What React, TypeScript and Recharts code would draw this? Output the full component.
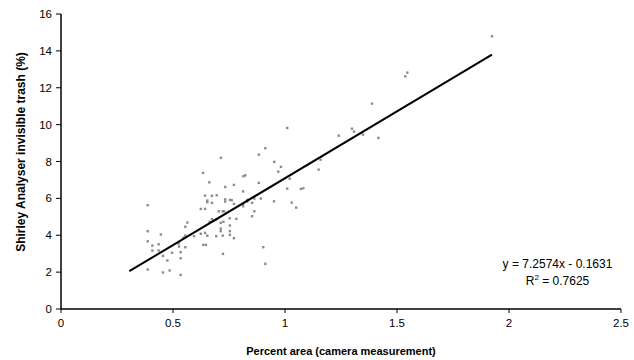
import {
  ComposedChart,
  Scatter,
  XAxis,
  YAxis,
  ZAxis,
} from "recharts";

// percent area (camera) vs Shirley analyser invisible trash (%)
const areaPct = [
  0.387, 0.387, 0.387, 0.387, 0.408, 0.408, 0.436, 0.436, 0.446, 0.455,
  0.455, 0.475, 0.485, 0.496, 0.525, 0.527, 0.534, 0.534, 0.534, 0.546,
  0.555, 0.555, 0.564, 0.555, 0.594, 0.624, 0.624, 0.634, 0.643, 0.643,
  0.643, 0.635, 0.647, 0.653, 0.653, 0.662, 0.653, 0.714, 0.883, 0.952,
  0.982, 0.970, 1.159, 1.150, 0.814, 0.823, 0.772, 0.733, 0.883, 1.021,
  0.813, 1.010, 1.071, 1.082, 0.674, 0.695, 0.674, 0.733, 0.733, 0.754,
  0.762, 0.772, 0.832, 0.832, 0.813, 0.813, 0.853, 0.863, 0.892, 0.951,
  1.030, 1.050, 0.704, 0.722, 0.728, 0.753, 0.783, 0.863, 0.853, 0.674,
  0.683, 0.693, 0.664, 0.713, 0.725, 0.754, 0.713, 0.713, 0.754, 0.754,
  0.693, 0.722, 0.772, 0.903, 0.723, 0.912, 1.010, 0.912, 1.240, 1.299,
  1.308, 1.348, 1.417, 1.388, 1.537, 1.546, 1.924,
];

const trashPct = [
  5.63, 4.22, 3.67, 2.14, 3.44, 3.17, 3.51, 3.17, 4.04, 2.88,
  1.98, 2.63, 2.09, 3.05, 3.55, 3.39, 3.08, 2.75, 1.85, 3.86,
  4.46, 3.35, 4.69, 3.98, 3.95, 5.43, 4.08, 7.38, 6.15, 5.43,
  4.13, 3.48, 3.48, 5.88, 5.79, 6.87, 3.98, 8.20, 8.37, 7.98,
  7.71, 7.45, 8.10, 7.56, 7.20, 7.25, 6.73, 6.62, 6.84, 7.07,
  6.38, 6.53, 6.51, 6.55, 6.14, 6.17, 5.76, 5.95, 5.83, 5.92,
  5.90, 5.70, 5.92, 5.83, 5.70, 5.57, 5.76, 5.99, 5.99, 5.84,
  5.77, 5.50, 5.30, 5.30, 5.30, 4.92, 4.89, 5.30, 5.03, 4.87,
  4.81, 4.85, 4.73, 4.67, 4.73, 4.53, 4.36, 4.22, 4.22, 4.02,
  3.95, 3.98, 3.84, 3.35, 2.99, 2.45, 9.82, 8.72, 9.40, 9.78,
  9.62, 9.46, 9.28, 11.14, 12.62, 12.82, 14.79,
];

const xTicks = [0, 0.5, 1, 1.5, 2, 2.5];
const yTicks = [0, 2, 4, 6, 8, 10, 12, 14, 16];

// linear fit shown on the chart
const slope = 7.2574;
const intercept = -0.1631;
const rSquared = 0.7625;
const fitRange = [0.305, 1.924];

const points = areaPct.map((x, i) => ({ x, y: trashPct[i] }));
const fitLine = fitRange.map((x) => ({ x, y: slope * x + intercept }));

const FONT = "'Liberation Sans', Arial, sans-serif";

const Dot = (props: any) => {
  const { cx, cy } = props;
  if (cx == null || cy == null) return null;
  return <rect x={cx - 1.2} y={cy - 1.2} width={2.4} height={2.4} fill="#8c8c8c" />;
};

// y title sits a bit above the plot centre in the original
const YTitle = () => (
  <text
    x={25}
    y={152}
    transform="rotate(-90 25 152)"
    textAnchor="middle"
    fontSize={12}
    fontWeight="bold"
    fontFamily={FONT}
    fill="#000"
  >
    Shirley Analyser invisible trash (%)
  </text>
);

export default function App() {
  return (
    <div style={{ position: "absolute", left: 0, top: 0, width: 634, height: 360, background: "#fff", fontFamily: FONT }}>
      <ComposedChart
        width={634}
        height={360}
        margin={{ top: 14, right: 13, bottom: 0, left: 0 }}
      >
        <XAxis
          xAxisId="b"
          type="number"
          dataKey="x"
          domain={[0, 2.5]}
          ticks={xTicks}
          height={51}
          axisLine={{ stroke: "#000", strokeWidth: 1.5 }}
          tickLine={{ stroke: "#000" }}
          tickSize={4}
          tickMargin={6}
          tick={{ fontSize: 11.5, fill: "#000", fontFamily: FONT }}
          label={{
            value: "Percent area (camera measurement)",
            position: "insideBottom",
            offset: 5,
            style: { fontSize: 11, fontWeight: "bold", fill: "#000", fontFamily: FONT },
          }}
        />
        <XAxis
          xAxisId="t"
          orientation="top"
          type="number"
          dataKey="x"
          domain={[0, 2.5]}
          height={0}
          tick={false}
          tickLine={false}
          axisLine={{ stroke: "#808080" }}
        />
        <YAxis
          yAxisId="l"
          type="number"
          dataKey="y"
          domain={[0, 16]}
          ticks={yTicks}
          width={61}
          axisLine={{ stroke: "#000", strokeWidth: 1.5 }}
          tickLine={{ stroke: "#000" }}
          tickSize={5}
          tickMargin={4}
          tick={{ fontSize: 11.5, fill: "#000", fontFamily: FONT }}
          label={{ content: () => <YTitle /> }}
        />
        <YAxis
          yAxisId="r"
          orientation="right"
          type="number"
          dataKey="y"
          domain={[0, 16]}
          width={0}
          tick={false}
          tickLine={false}
          axisLine={{ stroke: "#808080" }}
        />
        <ZAxis range={[10, 10]} />
        <Scatter
          xAxisId="b"
          yAxisId="l"
          data={points}
          shape={<Dot />}
          isAnimationActive={false}
        />
        <Scatter
          xAxisId="b"
          yAxisId="l"
          data={fitLine}
          line={{ stroke: "#000", strokeWidth: 2 }}
          shape={() => null}
          isAnimationActive={false}
        />
      </ComposedChart>
      <div
        style={{
          position: "absolute",
          left: 480,
          top: 256,
          width: 155,
          textAlign: "center",
          fontSize: 12,
          lineHeight: "17px",
          color: "#000",
        }}
      >
        <div>y = {slope}x - {Math.abs(intercept)}</div>
        <div>
          R<sup style={{ fontSize: 8, verticalAlign: "5px", lineHeight: 0 }}>2</sup> = {rSquared}
        </div>
      </div>
    </div>
  );
}
